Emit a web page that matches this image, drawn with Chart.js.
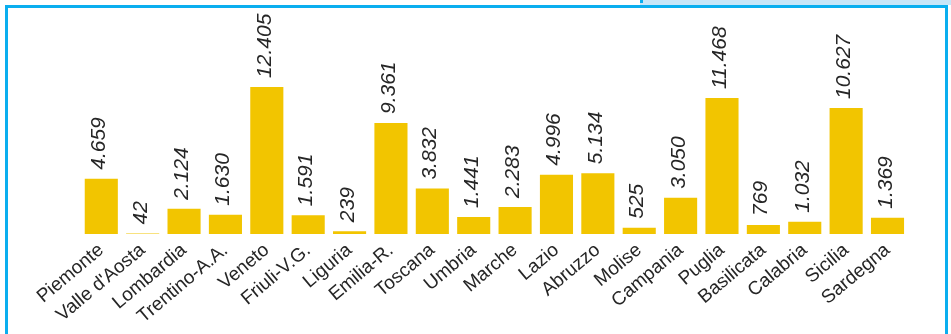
<!DOCTYPE html>
<html>
<head>
<meta charset="utf-8">
<script src="https://cdn.jsdelivr.net/npm/chart.js@4/dist/chart.umd.min.js"></script>
<style>
  html, body { margin: 0; padding: 0; background: #ffffff; }
  #wrap { position: relative; width: 951px; height: 334px; overflow: hidden; }
  #band { position: absolute; left: 640px; top: 0; width: 311px; height: 5px; background: #c8e6f8; }
  #notch { position: absolute; left: 640px; top: 0; width: 3px; height: 3px; background: #0aaeef; }
  #frame { position: absolute; left: 5px; top: 5px; width: 937px; height: 340px;
           border: 3px solid #0aaeef; border-bottom: none; }
  canvas { position: absolute; left: 0; top: 0; }
</style>
</head>
<body>
<div id="wrap">
  <div id="band"></div>
  <div id="notch"></div>
  <div id="frame"></div>
  <canvas id="c" width="951" height="334"></canvas>
</div>
<script>
// Regions and their totals
const regions = ['Piemonte', "Valle d'Aosta", 'Lombardia', 'Trentino-A.A.', 'Veneto', 'Friuli-V.G.',
  'Liguria', 'Emilia-R.', 'Toscana', 'Umbria', 'Marche', 'Lazio', 'Abruzzo', 'Molise',
  'Campania', 'Puglia', 'Basilicata', 'Calabria', 'Sicilia', 'Sardegna'];
const totals = [4659, 42, 2124, 1630, 12405, 1591, 239, 9361, 3832, 1441, 2283, 4996, 5134, 525,
  3050, 11468, 769, 1032, 10627, 1369];

// Italian thousands separator
function fmt(v) {
  return String(v).replace(/\B(?=(\d{3})+(?!\d))/g, '.');
}

const FONT = '"Liberation Sans", Arial, sans-serif';

// Vertical value labels above each bar
const valueLabels = {
  id: 'valueLabels',
  afterDatasetsDraw(chart) {
    const ctx = chart.ctx;
    const meta = chart.getDatasetMeta(0);
    ctx.save();
    ctx.fillStyle = '#262626';
    ctx.font = 'italic 21px ' + FONT;
    ctx.textAlign = 'left';
    ctx.textBaseline = 'alphabetic';
    meta.data.forEach((bar, i) => {
      ctx.save();
      ctx.translate(bar.x + 4, bar.y - 9);
      ctx.rotate(-Math.PI / 2);
      ctx.fillText(fmt(totals[i]), 0, 0);
      ctx.restore();
    });
    ctx.restore();
  }
};

new Chart(document.getElementById('c'), {
  type: 'bar',
  data: {
    labels: regions,
    datasets: [{
      data: totals,
      backgroundColor: '#f2c500',
      borderWidth: 0,
      barPercentage: 0.8,
      categoryPercentage: 1.0
    }]
  },
  options: {
    responsive: false,
    animation: false,
    layout: { padding: { left: 80.6, right: 42.8, top: 68, bottom: 0 } },
    plugins: { legend: { display: false }, tooltip: { enabled: false } },
    scales: {
      x: {
        grid: { display: false, drawTicks: false },
        border: { display: false },
        ticks: {
          color: '#262626',
          font: { family: FONT, size: 19 },
          minRotation: 40,
          maxRotation: 40,
          autoSkip: false,
          padding: 5
        },
        afterFit(scale) { scale.height = 100; }
      },
      y: {
        display: false,
        min: 0,
        max: 14000
      }
    }
  },
  plugins: [valueLabels]
});
</script>
</body>
</html>
